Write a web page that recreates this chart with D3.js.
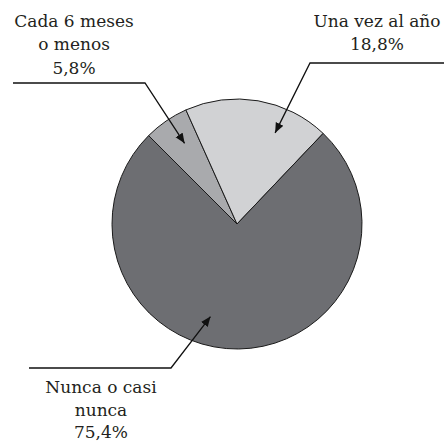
<!DOCTYPE html>
<html>
<head>
<meta charset="utf-8">
<style>
body { margin: 0px; background: #fff; }
</style>
</head>
<body>
<div id="chart"></div>
<script src="https://cdn.jsdelivr.net/npm/d3@7/dist/d3.min.js"></script>
<script>
'use strict';

// data, in drawing order (clockwise from the 10:30 position)
var categories = ['Cada 6 meses o menos', 'Una vez al año', 'Nunca o casi nunca'];
var values = [5.8, 18.8, 75.4];
var labelLines = [
  ['Cada 6 meses', 'o menos', '5,8%'],
  ['Una vez al año', '18,8%'],
  ['Nunca o casi', 'nunca', '75,4%']
];

var width = 444, height = 443;
var cx = 237, cy = 224, radius = 125;
var colors = ['#a9aaad', '#d1d2d4', '#6d6e72'];

// label layout: text anchor, leader line (horizontal run then arrow to a point in the slice)
var layout = [
  { tx: 74, ty: 27, lh: 23.3, lineX0: 13, lineX1: 145, lineY: 83, tipAng: -33, tipR: 0.77 },
  { tx: 377, ty: 27, lh: 23.3, lineX0: 444, lineX1: 310, lineY: 63, tipAng: 22.7, tipR: 0.79 },
  { tx: 101, ty: 393, lh: 22.5, lineX0: 29, lineX1: 171, lineY: 368, tipAng: 196, tipR: 0.77 }
];

var svg = d3.select('#chart').append('svg')
  .attr('width', width)
  .attr('height', height);

svg.append('defs').append('marker')
  .attr('id', 'arrow')
  .attr('viewBox', '0 0 10 10')
  .attr('refX', 10).attr('refY', 5)
  .attr('markerWidth', 10).attr('markerHeight', 10)
  .attr('markerUnits', 'userSpaceOnUse')
  .attr('orient', 'auto')
  .append('path')
  .attr('d', 'M0,0.8L10,5L0,9.2Z')
  .attr('fill', '#111');

var pie = d3.pie()
  .sort(null)
  .startAngle(-Math.PI / 4)
  .endAngle(-Math.PI / 4 + 2 * Math.PI);

var arc = d3.arc().innerRadius(0).outerRadius(radius);

var g = svg.append('g').attr('transform', 'translate(' + cx + ',' + cy + ')');

g.selectAll('path.slice')
  .data(pie(values))
  .enter().append('path')
  .attr('class', 'slice')
  .attr('d', arc)
  .attr('fill', function(d, i) { return colors[i]; })
  .attr('stroke', '#1a1a1a')
  .attr('stroke-width', 1);

// leaders
layout.forEach(function(l, i) {
  var a = l.tipAng * Math.PI / 180;
  var tipX = cx + Math.sin(a) * radius * l.tipR;
  var tipY = cy - Math.cos(a) * radius * l.tipR;
  svg.append('path')
    .attr('d', 'M' + l.lineX0 + ',' + l.lineY + 'L' + l.lineX1 + ',' + l.lineY + 'L' + tipX + ',' + tipY)
    .attr('fill', 'none')
    .attr('stroke', '#111')
    .attr('stroke-width', 1.3)
    .attr('marker-end', 'url(#arrow)');

  var t = svg.append('text')
    .attr('font-family', 'DejaVu Serif, serif')
    .attr('font-size', 17)
    .attr('fill', '#231f20')
    .attr('text-anchor', 'middle')
    .attr('x', l.tx)
    .attr('y', l.ty);
  labelLines[i].forEach(function(s, j) {
    t.append('tspan')
      .attr('x', l.tx)
      .attr('dy', j === 0 ? 0 : l.lh)
      .text(s);
  });
});
</script>
</body>
</html>
